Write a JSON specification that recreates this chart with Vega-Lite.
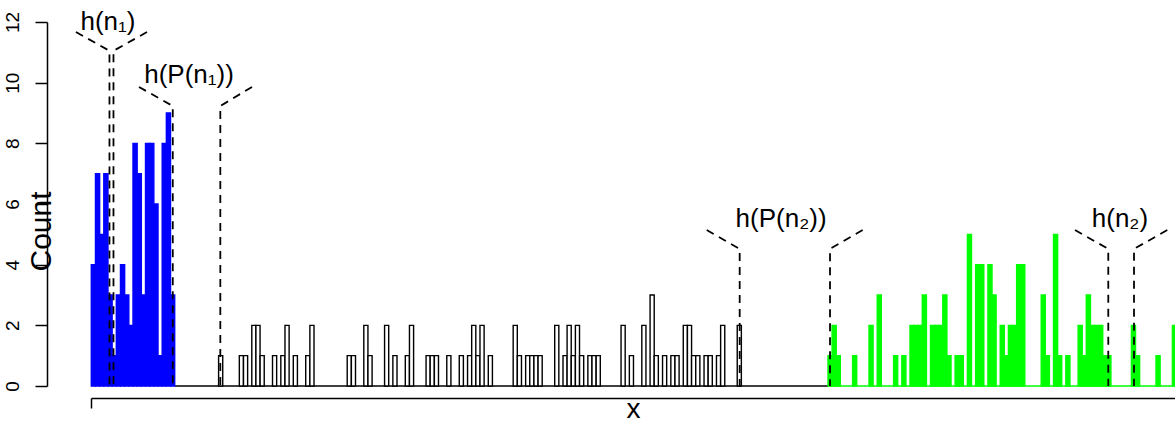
{
  "$schema": "https://vega.github.io/schema/vega-lite/v6.json",
  "width": 1084,
  "height": 364,
  "autosize": {"type": "none"},
  "padding": {"left": 91, "top": 22, "right": 0, "bottom": 37},
  "background": "white",
  "config": {"view": {"stroke": null}, "font": "Liberation Sans"},
  "datasets": {
    "bars": [
      {"g":"b","s":0,"e":1,"n":4},{"g":"b","s":1,"e":2,"n":7},{"g":"b","s":2,"e":3,"n":5},{"g":"b","s":3,"e":4,"n":7},
      {"g":"b","s":4,"e":5,"n":3},{"g":"b","s":5,"e":6,"n":1},{"g":"b","s":6,"e":7,"n":3},{"g":"b","s":7,"e":8,"n":4},
      {"g":"b","s":8,"e":9,"n":3},{"g":"b","s":9,"e":10,"n":2},{"g":"b","s":10,"e":11,"n":8},{"g":"b","s":11,"e":12,"n":7},
      {"g":"b","s":12,"e":13,"n":3},{"g":"b","s":13,"e":14,"n":8},{"g":"b","s":14,"e":15,"n":8},{"g":"b","s":15,"e":16,"n":6},
      {"g":"b","s":16,"e":17,"n":1},{"g":"b","s":17,"e":18,"n":8},{"g":"b","s":18,"e":19,"n":9},{"g":"b","s":19,"e":20,"n":3},
      {"g":"k","s":30.53,"e":31.52,"n":1},{"g":"k","s":35.5,"e":36.49,"n":1},{"g":"k","s":36.5,"e":37.49,"n":1},
      {"g":"k","s":38.49,"e":39.48,"n":2},{"g":"k","s":39.48,"e":40.47,"n":2},{"g":"k","s":40.48,"e":41.47,"n":1},
      {"g":"k","s":43.46,"e":44.45,"n":1},{"g":"k","s":45.45,"e":46.44,"n":1},{"g":"k","s":46.45,"e":47.44,"n":2},
      {"g":"k","s":48.44,"e":49.43,"n":1},{"g":"k","s":51.42,"e":52.41,"n":1},{"g":"k","s":52.42,"e":53.41,"n":2},
      {"g":"k","s":61.37,"e":62.36,"n":1},{"g":"k","s":62.37,"e":63.36,"n":1},{"g":"k","s":65.35,"e":66.34,"n":2},
      {"g":"k","s":66.35,"e":67.34,"n":1},{"g":"k","s":70.33,"e":71.32,"n":2},{"g":"k","s":72.32,"e":73.31,"n":1},
      {"g":"k","s":75.3,"e":76.29,"n":1},{"g":"k","s":76.3,"e":77.29,"n":2},{"g":"k","s":80.28,"e":81.27,"n":1},
      {"g":"k","s":81.27,"e":82.26,"n":1},{"g":"k","s":82.27,"e":83.26,"n":1},{"g":"k","s":85.25,"e":86.24,"n":1},
      {"g":"k","s":88.24,"e":89.23,"n":1},{"g":"k","s":90.23,"e":91.22,"n":1},{"g":"k","s":91.22,"e":92.21,"n":2},
      {"g":"k","s":92.22,"e":93.21,"n":1},{"g":"k","s":93.21,"e":94.2,"n":2},{"g":"k","s":95.2,"e":96.19,"n":1},
      {"g":"k","s":101.17,"e":102.16,"n":2},{"g":"k","s":102.17,"e":103.16,"n":1},{"g":"k","s":104.16,"e":105.15,"n":1},
      {"g":"k","s":105.15,"e":106.14,"n":1},{"g":"k","s":106.15,"e":107.14,"n":1},{"g":"k","s":107.14,"e":108.13,"n":1},
      {"g":"k","s":111.13,"e":112.12,"n":2},{"g":"k","s":113.12,"e":114.11,"n":1},{"g":"k","s":114.1,"e":115.09,"n":2},
      {"g":"k","s":115.1,"e":116.09,"n":1},{"g":"k","s":116.09,"e":117.08,"n":2},{"g":"k","s":117.09,"e":118.08,"n":1},
      {"g":"k","s":119.08,"e":120.07,"n":1},{"g":"k","s":120.07,"e":121.06,"n":1},{"g":"k","s":121.07,"e":122.06,"n":1},
      {"g":"k","s":127.04,"e":128.03,"n":2},{"g":"k","s":129.03,"e":130.02,"n":1},{"g":"k","s":132.02,"e":133.01,"n":2},
      {"g":"k","s":134.0,"e":134.99,"n":3},{"g":"k","s":134.99,"e":135.98,"n":1},{"g":"k","s":136.99,"e":137.98,"n":1},
      {"g":"k","s":138.98,"e":139.97,"n":1},{"g":"k","s":139.97,"e":140.96,"n":1},{"g":"k","s":141.96,"e":142.95,"n":2},
      {"g":"k","s":142.96,"e":143.95,"n":2},{"g":"k","s":143.95,"e":144.94,"n":1},{"g":"k","s":144.95,"e":145.94,"n":1},
      {"g":"k","s":146.94,"e":147.93,"n":1},{"g":"k","s":147.93,"e":148.92,"n":1},{"g":"k","s":149.92,"e":150.91,"n":1},
      {"g":"k","s":150.92,"e":151.91,"n":2},{"g":"k","s":154.9,"e":155.89,"n":2},
      {"g":"g","s":176.67,"e":177.65,"n":1},{"g":"g","s":177.65,"e":178.64,"n":2},{"g":"g","s":178.64,"e":179.62,"n":1},
      {"g":"g","s":182.57,"e":183.55,"n":1},{"g":"g","s":186.5,"e":187.48,"n":2},{"g":"g","s":188.47,"e":189.45,"n":3},
      {"g":"g","s":192.4,"e":193.38,"n":1},{"g":"g","s":194.37,"e":195.35,"n":1},{"g":"g","s":196.33,"e":197.32,"n":2},
      {"g":"g","s":197.32,"e":198.3,"n":2},{"g":"g","s":198.3,"e":199.28,"n":2},{"g":"g","s":199.28,"e":200.27,"n":3},
      {"g":"g","s":201.25,"e":202.23,"n":2},{"g":"g","s":202.23,"e":203.22,"n":2},{"g":"g","s":203.22,"e":204.2,"n":2},
      {"g":"g","s":204.2,"e":205.18,"n":3},{"g":"g","s":205.18,"e":206.17,"n":1},{"g":"g","s":207.15,"e":208.13,"n":1},
      {"g":"g","s":208.13,"e":209.12,"n":1},{"g":"g","s":210.1,"e":211.08,"n":5},{"g":"g","s":212.07,"e":213.05,"n":4},
      {"g":"g","s":213.05,"e":214.03,"n":4},{"g":"g","s":215.02,"e":216.0,"n":4},{"g":"g","s":216.0,"e":216.98,"n":3},
      {"g":"g","s":217.97,"e":218.95,"n":2},{"g":"g","s":218.95,"e":219.93,"n":1},{"g":"g","s":219.93,"e":220.91,"n":2},
      {"g":"g","s":220.91,"e":221.9,"n":2},{"g":"g","s":221.9,"e":222.88,"n":4},{"g":"g","s":222.88,"e":223.86,"n":4},
      {"g":"g","s":227.8,"e":228.78,"n":3},{"g":"g","s":228.78,"e":229.76,"n":1},{"g":"g","s":230.75,"e":231.73,"n":5},
      {"g":"g","s":231.73,"e":232.71,"n":1},{"g":"g","s":233.7,"e":234.68,"n":1},{"g":"g","s":236.65,"e":237.63,"n":2},
      {"g":"g","s":237.63,"e":238.61,"n":1},{"g":"g","s":238.61,"e":239.6,"n":3},{"g":"g","s":239.6,"e":240.58,"n":2},
      {"g":"g","s":240.58,"e":241.56,"n":2},{"g":"g","s":241.56,"e":242.55,"n":2},{"g":"g","s":242.55,"e":243.53,"n":1},
      {"g":"g","s":243.53,"e":244.51,"n":1},{"g":"g","s":249.43,"e":250.41,"n":2},{"g":"g","s":250.41,"e":251.4,"n":1},
      {"g":"g","s":255.33,"e":256.31,"n":1},{"g":"g","s":259.26,"e":260.24,"n":2}
    ],
    "base": [
      {"g":"k","s":20,"e":176.67},
      {"g":"g","s":176.67,"e":260.24}
    ],
    "paths": [
      {"id":"a1","o":1,"x":-3.67,"y":11.67},{"id":"a1","o":2,"x":4.36,"y":11.05},{"id":"a1","o":3,"x":4.36,"y":0},
      {"id":"a2","o":1,"x":13.36,"y":11.67},{"id":"a2","o":2,"x":5.32,"y":11.05},{"id":"a2","o":3,"x":5.32,"y":0},
      {"id":"b1","o":1,"x":11.44,"y":9.86},{"id":"b1","o":2,"x":19.54,"y":9.23},{"id":"b1","o":3,"x":19.54,"y":0},
      {"id":"b2","o":1,"x":38.54,"y":9.86},{"id":"b2","o":2,"x":30.94,"y":9.23},{"id":"b2","o":3,"x":30.94,"y":0},
      {"id":"c1","o":1,"x":147.58,"y":5.14},{"id":"c1","o":2,"x":155.49,"y":4.52},{"id":"c1","o":3,"x":155.49,"y":0},
      {"id":"c2","o":1,"x":184.99,"y":5.14},{"id":"c2","o":2,"x":177.15,"y":4.52},{"id":"c2","o":3,"x":177.15,"y":0},
      {"id":"d1","o":1,"x":235.9,"y":5.14},{"id":"d1","o":2,"x":243.88,"y":4.52},{"id":"d1","o":3,"x":243.88,"y":0},
      {"id":"d2","o":1,"x":258.03,"y":5.14},{"id":"d2","o":2,"x":250.05,"y":4.52},{"id":"d2","o":3,"x":250.05,"y":0}
    ],
    "labels": [
      {"t":"h(n₁)","x":4.0,"y":11.74},
      {"t":"h(P(n₁))","x":23.43,"y":9.99},
      {"t":"h(P(n₂))","x":165.41,"y":5.23},
      {"t":"h(n₂)","x":246.68,"y":5.23}
    ]
  },
  "layer": [
    {
      "data": {"name": "base"},
      "mark": {"type": "rule", "strokeWidth": 1.5},
      "encoding": {
        "x": {"field": "s", "type": "quantitative", "title": "x",
              "scale": {"domain": [-0.07, 259.88], "nice": false, "zero": false},
              "axis": {"values": [0], "labels": false, "tickSize": 10, "offset": 12, "grid": false,
                       "domainColor": "black", "tickColor": "black", "domainWidth": 1.5, "tickWidth": 1.5,
                       "titleFontSize": 28, "titleFont": "Liberation Sans", "titleFontWeight": "normal",
                       "titleColor": "black", "titleBaseline": "alphabetic", "titleY": 19}},
        "x2": {"field": "e"},
        "y": {"datum": 0, "type": "quantitative", "title": "Count",
              "scale": {"domain": [0, 12], "nice": false},
              "axis": {"values": [0, 2, 4, 6, 8, 10, 12], "offset": 44, "tickSize": 12, "grid": false,
                       "domainColor": "black", "tickColor": "black", "domainWidth": 1.5, "tickWidth": 1.5,
                       "labelAngle": -90, "labelAlign": "center", "labelBaseline": "alphabetic",
                       "labelPadding": 17, "labelFontSize": 19, "labelFont": "Liberation Sans",
                       "labelColor": "black", "labelOverlap": false,
                       "titleFontSize": 30, "titleFont": "Liberation Sans", "titleFontWeight": "normal",
                       "titleColor": "black", "titleAngle": -90, "titleBaseline": "alphabetic",
                       "titleAlign": "center", "titleX": 3, "titleY": 209}},
        "stroke": {"field": "g", "type": "nominal", "legend": null,
                   "scale": {"domain": ["b", "k", "g"], "range": ["#0000ff", "#000000", "#00ff00"]}}
      }
    },
    {
      "data": {"name": "bars"},
      "mark": {"type": "rect", "strokeWidth": 1.4},
      "encoding": {
        "x": {"field": "s", "type": "quantitative", "title": "x"},
        "x2": {"field": "e"},
        "y": {"field": "n", "type": "quantitative", "title": "Count"},
        "y2": {"datum": 0},
        "fill": {"field": "g", "type": "nominal", "legend": null,
                 "scale": {"domain": ["b", "k", "g"], "range": ["#0000ff", "#ffffff", "#00ff00"]}},
        "stroke": {"field": "g", "type": "nominal", "legend": null}
      }
    },
    {
      "data": {"name": "paths"},
      "mark": {"type": "line", "color": "black", "strokeWidth": 1.8, "strokeDash": [8, 6]},
      "encoding": {
        "x": {"field": "x", "type": "quantitative", "title": "x"},
        "y": {"field": "y", "type": "quantitative", "title": "Count"},
        "detail": {"field": "id"},
        "order": {"field": "o", "type": "quantitative"}
      }
    },
    {
      "data": {"name": "labels"},
      "mark": {"type": "text", "fontSize": 26, "font": "Liberation Sans", "align": "center", "baseline": "alphabetic", "color": "black"},
      "encoding": {
        "x": {"field": "x", "type": "quantitative", "title": "x"},
        "y": {"field": "y", "type": "quantitative", "title": "Count"},
        "text": {"field": "t"}
      }
    }
  ]
}
